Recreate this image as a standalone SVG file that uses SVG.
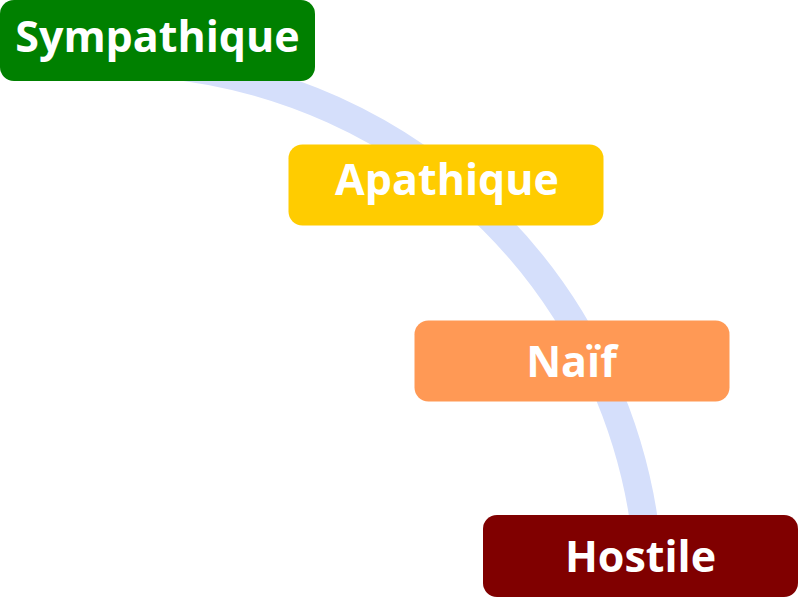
<svg xmlns="http://www.w3.org/2000/svg" width="798" height="597" viewBox="0 0 798 597">
<style>
.lbl{font-family:"Open Sans","Noto Sans","DejaVu Sans",sans-serif;font-weight:700;font-size:43px;fill:#ffffff;text-anchor:middle}
.conn{fill:none;stroke:#D5DFFB;stroke-width:28}
</style>
<rect width="798" height="597" fill="#ffffff"/>
<g id="connectors">
<path class="conn" d="M 157 64 A 538 538 0 0 1 648 556"/>
</g>
<g id="sympathique">
<rect x="0" y="0" width="315" height="81" rx="14" fill="#008000"/>
<text class="lbl" x="157.5" y="52">Sympathique</text>
</g>
<g id="apathique">
<rect x="288.5" y="144.5" width="315" height="81" rx="14" fill="#FFCC00"/>
<text class="lbl" x="447" y="195">Apathique</text>
</g>
<g id="naif">
<rect x="414.5" y="320.5" width="315" height="81" rx="14" fill="#FF9955"/>
<text class="lbl" x="571.5" y="377">Naïf</text>
</g>
<g id="hostile">
<rect x="483" y="515" width="315" height="82" rx="14" fill="#800000"/>
<text class="lbl" x="640.5" y="572">Hostile</text>
</g>
</svg>
